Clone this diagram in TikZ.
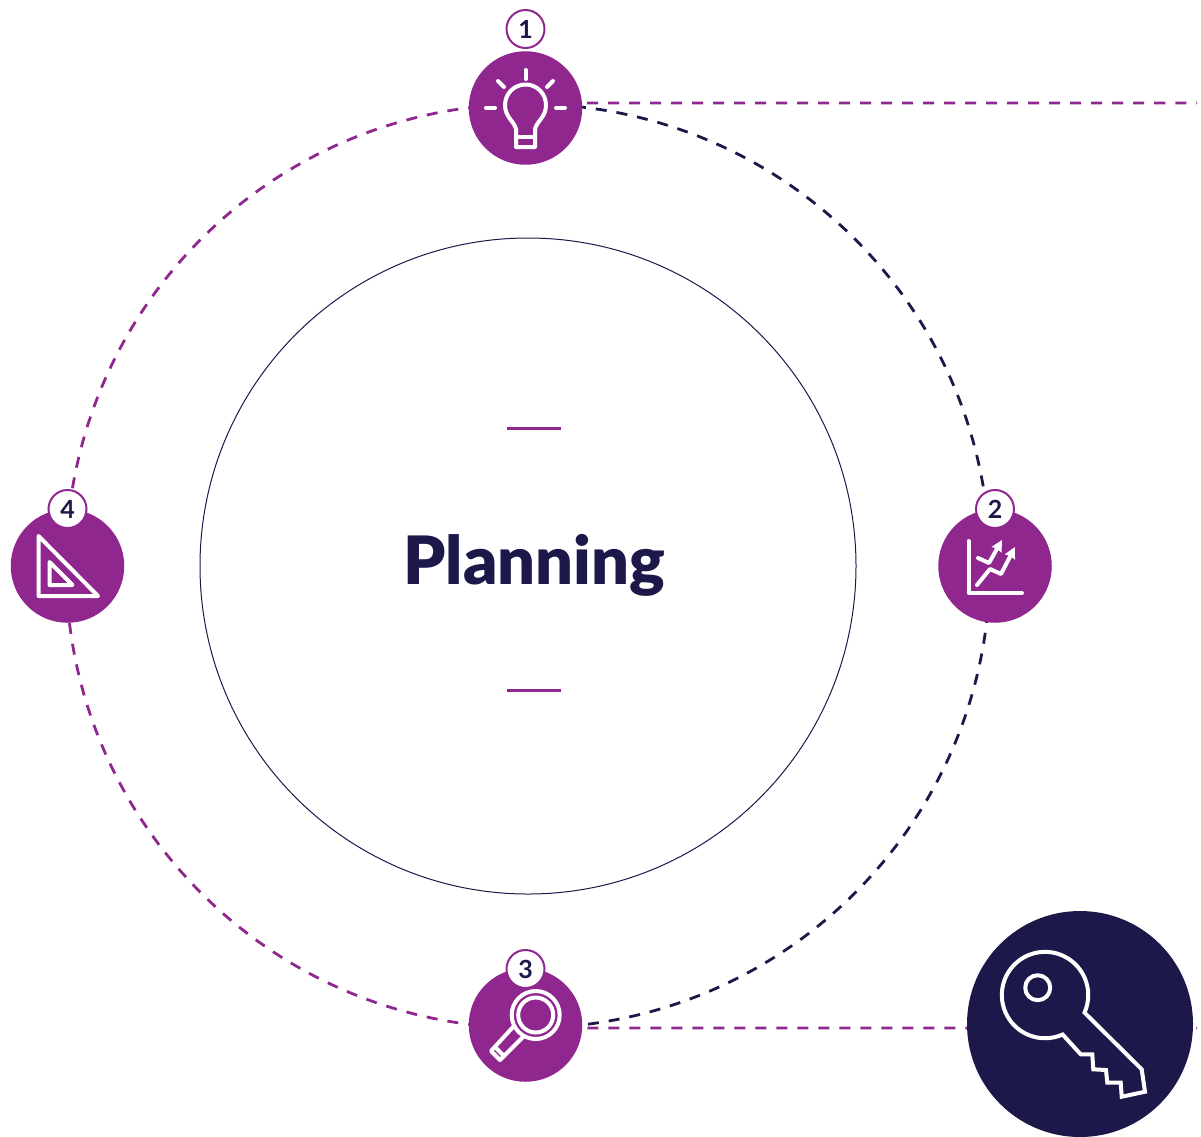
\documentclass[tikz,border=0pt]{standalone}
\usepackage{fontspec}
\setmainfont{Lato}
\newfontfamily\heavyfont{Lato Black}
\usetikzlibrary{arrows.meta,backgrounds}
\definecolor{plum}{HTML}{8F278F}
\definecolor{ink}{HTML}{1C184A}
\tikzset{
  stop/.style={circle,fill=plum,minimum size=113.5pt,inner sep=0pt},
  badge/.style={circle,draw=plum,fill=white,line width=2pt,minimum size=38pt,inner sep=0pt,text=ink,font=\fontsize{25}{28}\selectfont\bfseries},
  ringdash/.style={line width=2.8pt,dash pattern=on 11pt off 10pt},
  glyph/.style={draw=white,line width=4pt,line cap=round,line join=round},
  uptip/.style={-{Stealth[length=11pt,width=11pt,inset=1pt]}}
}
\begin{document}
\begin{tikzpicture}[x=1pt,y=-1pt]
\useasboundingbox (0,0) rectangle (1201,1136);
\foreach \px/\py/\qy [count=\n] in {525.5/108/29,995/566/509,525.5/1025/969,67.5/566/509}
  {\node[stop](N\n) at (\px,\py){};
   \node[badge](B\n) at (\px,\qy){\n};}
\node[circle,fill=ink,minimum size=226pt,inner sep=0pt](K) at (1080,1024){};
\node[circle,draw=ink,line width=1pt,minimum size=656pt,inner sep=0pt](C) at (528,566){};
\node[font=\fontsize{66.7}{80}\selectfont\heavyfont,text=ink](T) at (534.5,565){Planning};
\coordinate (A1) at (528,104);
\coordinate (A2) at (990,566);
\coordinate (A3) at (528,1028);
\coordinate (A4) at (66,566);
\coordinate (R1) at (1197,103);
\coordinate (R3) at (1197,1028);
\begin{scope}[on background layer]
\draw[ringdash,ink,dash phase=16pt] (A1) to[out=0,in=90] (A2);
\draw[ringdash,ink,dash phase=17pt] (A2) to[out=-90,in=0] (A3);
\draw[ringdash,plum,dash phase=14pt] (A3) to[out=180,in=-90] (A4);
\draw[ringdash,plum,dash phase=14pt] (A1) to[out=180,in=90] (A4);
\draw[ringdash,plum] ([xshift=5pt]N1.5) -- (R1);
\draw[ringdash,plum] ([xshift=5pt]N3.-3) -- (R3);
\end{scope}
\draw[plum,line width=3pt] (507,428) -- (561,428);
\draw[plum,line width=3pt] (507,690) -- (561,690);
% lamp
\draw[glyph] (525.5,70) -- (525.5,79);
\draw[glyph] (498,81) -- (504,87);
\draw[glyph] (553,81) -- (547,87);
\draw[glyph] (486,107.5) -- (495,107.5);
\draw[glyph] (556,107.5) -- (565,107.5);
\draw[glyph] (516,147) -- (516,129) .. controls (514,121) and (505,117) .. (505,105) arc[start angle=180,end angle=360,radius=20.5] .. controls (546,117) and (537,121) .. (535,129) -- (535,147) -- cycle;
\draw[glyph] (516,137) -- (535,137);
% chart
\draw[glyph] (968.5,541) -- (968.5,593) -- (1022,593);
\draw[glyph,uptip] (977,585) -- (990,569) -- (1001,574) -- (1015,547);
\draw[glyph,uptip] (978,558) -- (989,563) -- (1002,540);
% lens
\draw[glyph] (535.7,1015) circle[radius=24];
\draw[glyph] (535.7,1015) circle[radius=17.5];
\draw[glyph] (513,1027) -- (491,1051) -- (500,1060) -- (523,1037);
\draw[glyph] (495,1047) -- (504,1056);
% set square
\draw[glyph] (38.5,536) -- (38.5,596) -- (98,596) -- cycle;
\draw[glyph] (49.5,562) -- (49.5,585) -- (72.5,585) -- cycle;
% key
\draw[glyph] (1037.7,987.7) circle[radius=12.5];
\draw[glyph,line join=miter] (1062.6,1034.5) arc[start angle=66,end angle=384,radius=43.2] -- (1141.7,1069.3) -- (1145,1091.7) -- (1121.7,1096.7) -- (1120.7,1082.7) -- (1107.3,1082.7) -- (1106,1070) -- (1093.3,1069.3) -- (1092.3,1054.3) -- (1080.7,1054.3) -- cycle;
\end{tikzpicture}
\end{document}
